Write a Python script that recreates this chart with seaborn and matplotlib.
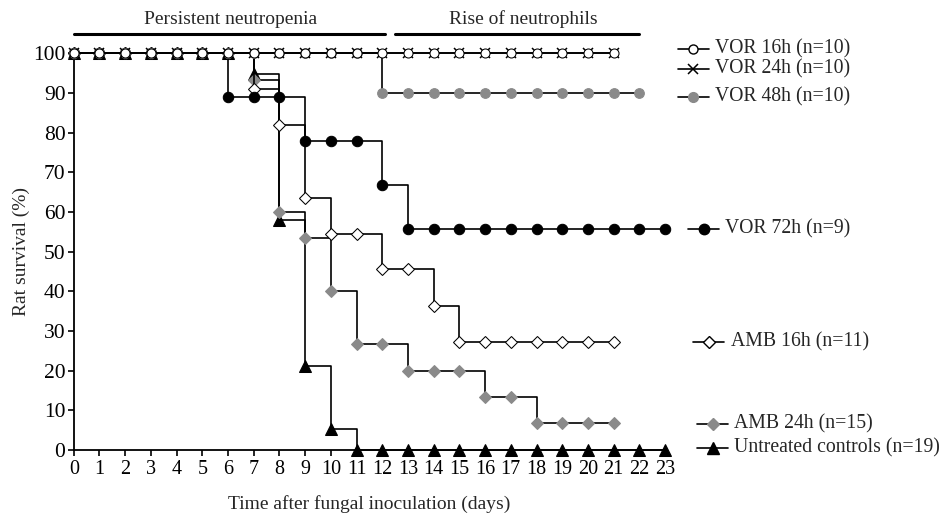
import matplotlib
matplotlib.use("Agg")
import matplotlib.pyplot as plt
from matplotlib.lines import Line2D
import seaborn as sns
import pandas as pd
import numpy as np

# === Data (survival %) ===
days_21 = list(range(0, 22))
days_22 = list(range(0, 23))
days_23 = list(range(0, 24))

vor16 = [100] * 22
vor24 = [100] * 22
vor48 = [100] * 12 + [90] * 11
vor72 = [100, 100, 100, 100, 100, 100, 88.9, 88.9, 88.9, 77.8, 77.8, 77.8,
         66.7, 55.6, 55.6, 55.6, 55.6, 55.6, 55.6, 55.6, 55.6, 55.6, 55.6, 55.6]
amb16 = [100, 100, 100, 100, 100, 100, 100, 90.9, 81.8, 63.6, 54.5, 54.5,
         45.5, 45.5, 36.4, 27.3, 27.3, 27.3, 27.3, 27.3, 27.3, 27.3]
amb24 = [100, 100, 100, 100, 100, 100, 100, 93.3, 60.0, 53.3, 40.0, 26.7,
         26.7, 20.0, 20.0, 20.0, 13.3, 13.3, 6.7, 6.7, 6.7, 6.7]
untreated = [100, 100, 100, 100, 100, 100, 100, 94.7, 57.9, 21.1, 5.3, 0,
             0, 0, 0, 0, 0, 0, 0, 0, 0, 0, 0, 0]

labels = ["VOR 16h (n=10)", "VOR 24h (n=10)", "VOR 48h (n=10)", "VOR 72h (n=9)",
          "AMB 16h (n=11)", "AMB 24h (n=15)", "Untreated controls (n=19)"]
legend_y = [101, 96, 89, 55.6, 27.3, 6.5, 0.5]

GRAY = "#8a8a8a"
series = [
    (days_21, vor16, dict(marker="o", mfc="white", mec="black", ms=6.5)),
    (days_21, vor24, dict(marker="x", mec="black", ms=7.5, mew=1.1)),
    (days_22, vor48, dict(marker="o", mfc=GRAY, mec=GRAY, ms=7)),
    (days_23, vor72, dict(marker="o", mfc="black", mec="black", ms=7.5)),
    (days_21, amb16, dict(marker="D", mfc="white", mec="black", ms=6.5)),
    (days_21, amb24, dict(marker="D", mfc=GRAY, mec=GRAY, ms=6.5)),
    (days_23, untreated, dict(marker="^", mfc="black", mec="black", ms=8.5)),
]

sns.set_style("ticks")
plt.rcParams["font.family"] = ["Liberation Serif", "DejaVu Serif"]

fig = plt.figure(figsize=(9.46, 5.16), dpi=100)
ax = fig.add_axes([0.078, 0.128, 0.625, 0.769])

# draw bottom-most first so the white markers stay on top at 100%
order = [6, 5, 4, 3, 2, 1, 0]
for i in order:
    x, y, style = series[i]
    df = pd.DataFrame({"day": x, "surv": y})
    sns.lineplot(data=df, x="day", y="surv", ax=ax, drawstyle="steps-post",
                 color="black", lw=1.2, clip_on=False, zorder=3 + (6 - i),
                 **style)

ax.set_xlim(0, 23)
ax.set_ylim(0, 100)
ax.set_xticks(range(0, 24))
ax.set_yticks(range(0, 101, 10))
ax.tick_params(labelsize=14.5, direction="out", length=4, width=1.2, colors="black",
               pad=3)
ax.tick_params(axis="y", labelsize=15.5, pad=2)
ax.set_xlabel("Time after fungal inoculation (days)", fontsize=14, labelpad=12)
ax.set_ylabel("Rat survival (%)", fontsize=14, labelpad=2)
sns.despine(ax=ax)
for s in ["left", "bottom"]:
    ax.spines[s].set_linewidth(1.3)
    ax.spines[s].set_color("black")

# phase bars on top
ax.plot([0, 12.1], [104.8, 104.8], color="black", lw=2.2, clip_on=False)
ax.plot([12.5, 22.0], [104.8, 104.8], color="black", lw=2.2, clip_on=False)
ax.text(6.1, 106.3, "Persistent neutropenia", ha="center", va="bottom", fontsize=14)
ax.text(17.5, 106.3, "Rise of neutrophils", ha="center", va="bottom", fontsize=14)

# legend entries placed beside each curve
legend_x0 = [23.5, 23.5, 23.5, 23.9, 24.1, 24.25, 24.25]
for i, lab in enumerate(labels):
    x0 = legend_x0[i]
    style = series[i][2]
    ax.add_line(Line2D([x0, x0 + 1.2], [legend_y[i]] * 2, color="black", lw=1.2,
                       clip_on=False))
    ax.add_line(Line2D([x0 + 0.6], [legend_y[i]], ls="none", clip_on=False, **style))
    ax.text(x0 + 1.45, legend_y[i], lab, ha="left", va="center", fontsize=14.2)

fig.savefig("out.png", dpi=100)
